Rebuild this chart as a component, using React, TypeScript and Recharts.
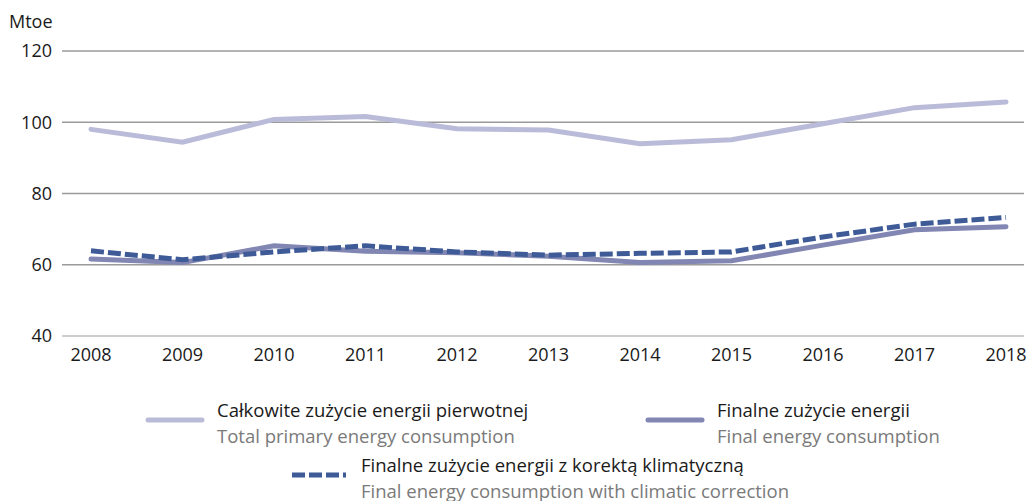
import { LineChart, Line, XAxis, YAxis, ReferenceLine } from "recharts";

const years = ["2008", "2009", "2010", "2011", "2012", "2013", "2014", "2015", "2016", "2017", "2018"];
const primary = [98.0, 94.4, 100.8, 101.6, 98.2, 97.8, 94.0, 95.1, 99.6, 104.1, 105.7];
const finalUse = [61.6, 60.6, 65.3, 63.8, 63.4, 62.4, 60.6, 61.1, 65.5, 69.8, 70.7];
const finalCorrected = [63.9, 61.4, 63.6, 65.3, 63.6, 62.7, 63.2, 63.6, 67.8, 71.4, 73.3];
const yTicks = [40, 60, 80, 100, 120];
const gridValues = [60, 80, 100, 120];

const data = years.map((y, i) => ({
  year: y,
  primary: primary[i],
  finalUse: finalUse[i],
  finalCorrected: finalCorrected[i],
}));

const font = "'Open Sans', sans-serif";

function LegendItem(props: { left: number; top: number; color: string; dashed?: boolean; pl: string; en: string }) {
  const { left, top, color, dashed, pl, en } = props;
  return (
    <div style={{ position: "absolute", left, top, display: "flex", alignItems: "flex-start" }}>
      <svg width={60} height={20} style={{ marginTop: 13, marginRight: 12 }}>
        <line
          x1={3}
          y1={10}
          x2={57}
          y2={10}
          stroke={color}
          strokeWidth={5}
          strokeLinecap={dashed ? "butt" : "round"}
          strokeDasharray={dashed ? "13 4" : undefined}
        />
      </svg>
      <div style={{ fontSize: 18.5, lineHeight: "25.5px", whiteSpace: "nowrap" }}>
        <div style={{ color: "#1a1a1a" }}>{pl}</div>
        <div style={{ color: "#7a7a7a" }}>{en}</div>
      </div>
    </div>
  );
}

export default function App() {
  return (
    <div style={{ position: "absolute", left: 0, top: 0, width: 1027, height: 501, background: "#fff", fontFamily: font }}>
      <div style={{ position: "absolute", left: 9, top: 9, fontSize: 18, color: "#1a1a1a" }}>Mtoe</div>
      <LineChart width={1027} height={380} data={data} margin={{ top: 51, right: 3, left: 0, bottom: 14 }}>
        {gridValues.map((v) => (
          <ReferenceLine key={v} y={v} stroke="#9a9a9a" strokeWidth={1.5} />
        ))}
        <XAxis
          dataKey="year"
          padding={{ left: 29, right: 18 }}
          axisLine={{ stroke: "#bcbcbc", strokeWidth: 1.5 }}
          tickLine={false}
          tick={{ fill: "#1a1a1a", fontSize: 18, fontFamily: font }}
          tickMargin={6}
          height={30}
        />
        <YAxis
          domain={[40, 120]}
          ticks={yTicks}
          width={62}
          axisLine={false}
          tickLine={false}
          tick={{ fill: "#1a1a1a", fontSize: 18, fontFamily: font }}
          tickMargin={4}
        />
        <Line dataKey="primary" stroke="#babbd8" strokeWidth={5} dot={false} strokeLinecap="round" isAnimationActive={false} />
        <Line dataKey="finalUse" stroke="#8186b2" strokeWidth={5} dot={false} strokeLinecap="round" isAnimationActive={false} />
        <Line dataKey="finalCorrected" stroke="#3e5b97" strokeWidth={5} strokeDasharray="13 4" dot={false} isAnimationActive={false} />
      </LineChart>
      <LegendItem left={145} top={397} color="#babbd8" pl="Całkowite zużycie energii pierwotnej" en="Total primary energy consumption" />
      <LegendItem left={645} top={397} color="#8186b2" pl="Finalne zużycie energii" en="Final energy consumption" />
      <LegendItem left={289} top={452} color="#3e5b97" dashed pl="Finalne zużycie energii z korektą klimatyczną" en="Final energy consumption with climatic correction" />
    </div>
  );
}
